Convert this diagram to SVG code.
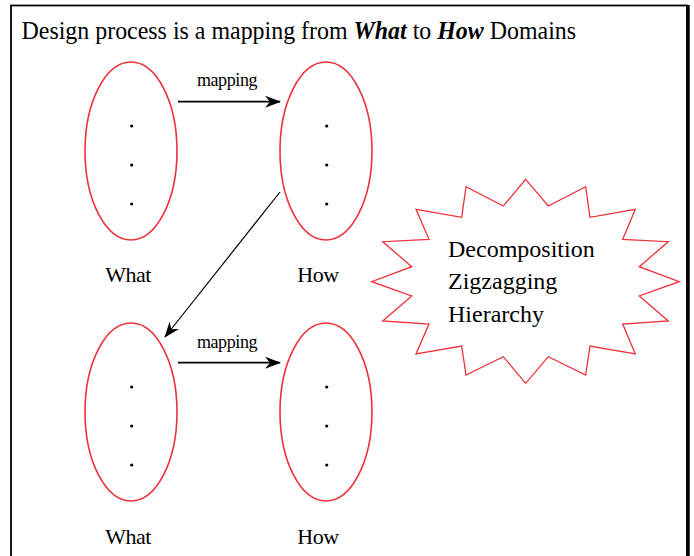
<svg xmlns="http://www.w3.org/2000/svg" width="694" height="556" viewBox="0 0 694 556">
<style>
  text { font-family: "Liberation Serif", "Times New Roman", serif; fill: #000; }
  .dom { fill: none; stroke: #f0303a; stroke-width: 1.6; }
  .dot { fill: #000; }
  .lbl { font-size: 22px; text-anchor: middle; letter-spacing: -0.5px; }
  .map { font-size: 18px; text-anchor: middle; letter-spacing: -0.4px; }
  .conn { stroke: #000; fill: none; }
  .star { fill: #fff; stroke: #f0303a; stroke-width: 1.3; }
  .st { font-size: 24px; }
</style>
<defs>
  <marker id="ah" markerUnits="userSpaceOnUse" markerWidth="16" markerHeight="12" viewBox="0 0 16 12" refX="15" refY="6" orient="auto">
    <path d="M0,0 L16,6 L0,12 L5,6 z" fill="#000"/>
  </marker>
</defs>
<rect x="0" y="0" width="694" height="556" fill="#fff"/>
<g id="frame">
  <rect x="11" y="5.5" width="676" height="560" fill="none" stroke="#000" stroke-width="1.8"/>
  <line x1="688" y1="5" x2="688" y2="556" stroke="#000" stroke-width="3.5"/>
</g>
<g id="title">
  <text transform="translate(21.5,39.3) scale(0.957,1)" x="0" y="0" font-size="25">Design process is a mapping from <tspan font-weight="bold" font-style="italic">What</tspan> to <tspan font-weight="bold" font-style="italic">How</tspan> Domains</text>
</g>
<g id="what1">
  <ellipse class="dom" cx="131" cy="151" rx="46" ry="89"/>
  <circle class="dot" cx="131.7" cy="126" r="1.6"/>
  <circle class="dot" cx="131.7" cy="165" r="1.6"/>
  <circle class="dot" cx="131.7" cy="204" r="1.6"/>
  <text class="lbl" x="128" y="282">What</text>
</g>
<g id="how1">
  <ellipse class="dom" cx="326" cy="151" rx="46" ry="89"/>
  <circle class="dot" cx="326.7" cy="126" r="1.6"/>
  <circle class="dot" cx="326.7" cy="165" r="1.6"/>
  <circle class="dot" cx="326.7" cy="204" r="1.6"/>
  <text class="lbl" x="318" y="282">How</text>
</g>
<g id="what2">
  <ellipse class="dom" cx="131" cy="412" rx="46" ry="89"/>
  <circle class="dot" cx="131.7" cy="387" r="1.6"/>
  <circle class="dot" cx="131.7" cy="426" r="1.6"/>
  <circle class="dot" cx="131.7" cy="465" r="1.6"/>
  <text class="lbl" x="128" y="544">What</text>
</g>
<g id="how2">
  <ellipse class="dom" cx="326" cy="412" rx="46" ry="89"/>
  <circle class="dot" cx="326.7" cy="387" r="1.6"/>
  <circle class="dot" cx="326.7" cy="426" r="1.6"/>
  <circle class="dot" cx="326.7" cy="465" r="1.6"/>
  <text class="lbl" x="318" y="544">How</text>
</g>
<g id="connectors">
  <line class="conn" x1="178" y1="101.7" x2="280" y2="101.7" stroke-width="1.8" marker-end="url(#ah)"/>
  <text class="map" x="227" y="86">mapping</text>
  <line class="conn" x1="178" y1="362.7" x2="280" y2="362.7" stroke-width="1.8" marker-end="url(#ah)"/>
  <text class="map" x="227" y="348">mapping</text>
  <line class="conn" x1="280" y1="192" x2="165" y2="337" stroke-width="1.2" marker-end="url(#ah)"/>
</g>
<g id="starburst">
  <polygon class="star" points="525.7,179.3 548.3,206 585.7,186.7 590,217.3 635.3,209.3 622.7,239.3 668.3,241.7 639.3,266.7 679.3,281.7 639.3,296 668.3,321 622.7,324 635.3,354 590,346 585.7,375 548.3,356.7 525.7,383.3 503.3,356.7 466,375 461.7,346 416,354 429,324 382.7,321 411.7,296 371.7,281.7 411.7,266.7 382.7,241.7 429,239.3 416,209.3 461.7,217.3 466,186.7 503.3,206"/>
  <text class="st" x="448" y="256.7">Decomposition</text>
  <text class="st" x="448" y="289">Zigzagging</text>
  <text class="st" x="448" y="321.7">Hierarchy</text>
</g>
</svg>
